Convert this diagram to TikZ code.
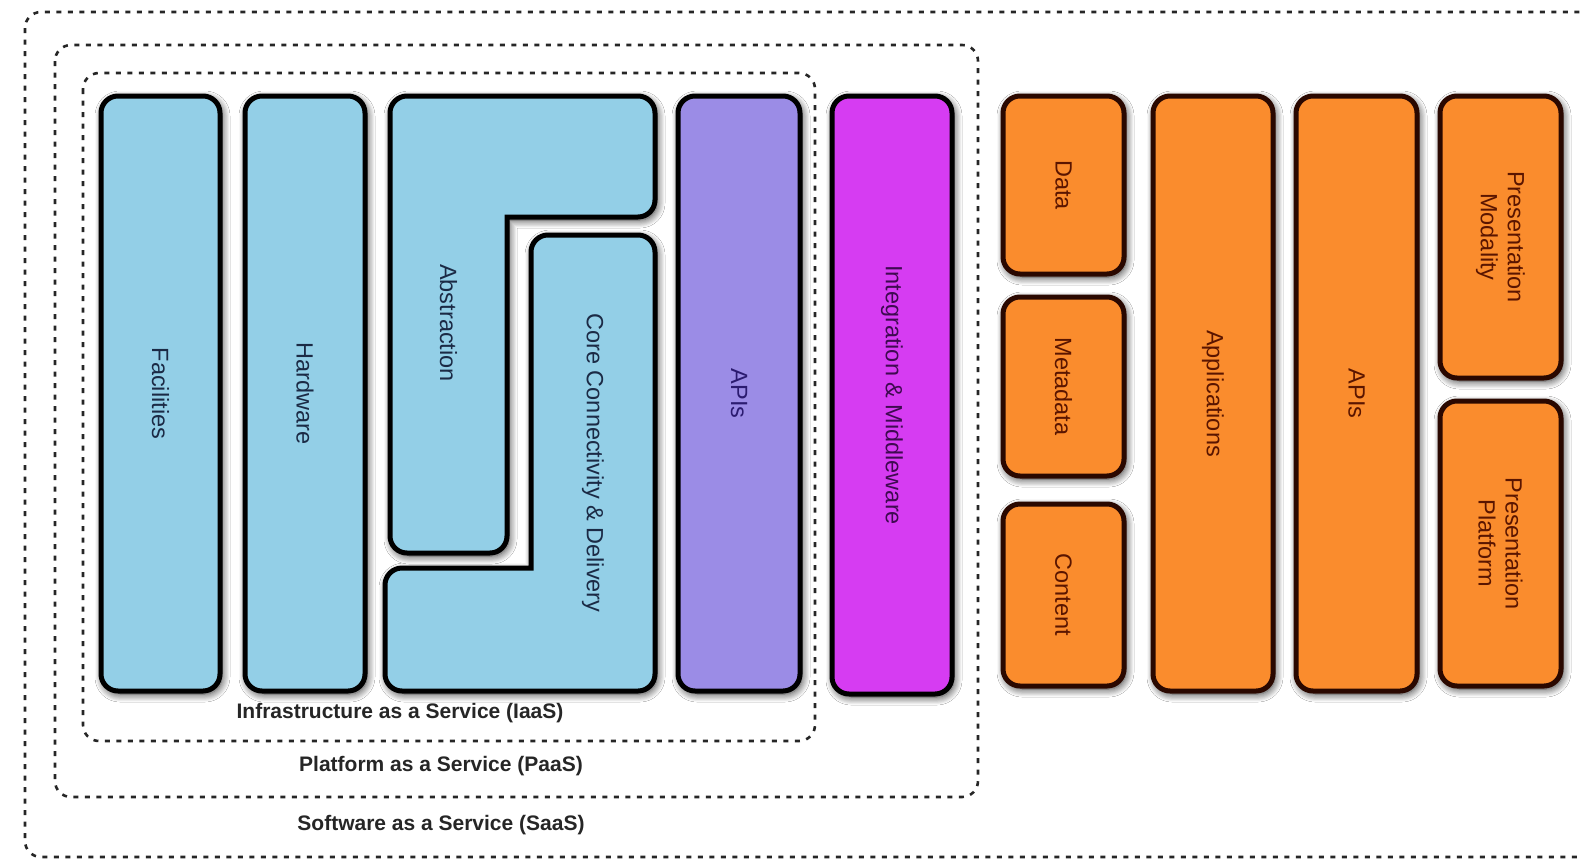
\documentclass[tikz,border=0pt]{standalone}
\usepackage{fontspec}
\setmainfont{Liberation Sans}
\usetikzlibrary{shadows.blur}

\definecolor{skyfill}{HTML}{93CFE7}
\definecolor{skyink}{HTML}{1B2A45}
\definecolor{lilacfill}{HTML}{9B8CE6}
\definecolor{lilacink}{HTML}{2B1B70}
\definecolor{magfill}{HTML}{D63CF2}
\definecolor{magink}{HTML}{3E0A50}
\definecolor{orgfill}{HTML}{FA8C2D}
\definecolor{orgink}{HTML}{5A1500}
\definecolor{orgrim}{HTML}{2A0800}

\begin{document}
\begin{tikzpicture}[x=1pt,y=-1pt,
  layer/.style={draw=black!85,line width=2.6pt,dash pattern=on 5pt off 6.5pt,rounded corners=16pt},
  block/.style={line width=5pt,rounded corners=17pt,
    blur shadow={shadow xshift=2pt,shadow yshift=-3pt,shadow blur radius=8pt,
      shadow blur steps=8,shadow opacity=85}},
  vblock/.style={block,rotate=-90,align=center,inner sep=0pt},
  boxfont/.style={font=\fontsize{23.5}{27}\selectfont},
  vtext/.style={rotate=-90,boxfont},
  caption/.style={font=\fontsize{21}{25}\selectfont\bfseries,text=black!85},
]
\useasboundingbox (0,0) rectangle (1581,865);
\fill[white] (0,0) rectangle (1581,865);
\clip (0,0) rectangle (1581,865);

% service layers
\draw[layer] (25,12) rectangle (1620,857);
\draw[layer] (55,45) rectangle (978,797);
\draw[layer] (83,73) rectangle (815,741);
\node[caption] (iaas) at (400,713) {Infrastructure as a Service (IaaS)};
\node[caption] (paas) at (441,766) {Platform as a Service (PaaS)};
\node[caption] (saas) at (441,825) {Software as a Service (SaaS)};

% interlocking infrastructure pieces
\draw[block,draw=black,fill=skyfill] (390,96) -- (655,96) -- (655,217)
  [sharp corners] -- (507,217) [rounded corners=17pt] -- (507,553) -- (390,553) -- cycle;
\draw[block,draw=black,fill=skyfill] (531,235) -- (655,235) -- (655,691) -- (385,691)
  -- (385,568) [sharp corners] -- (531,568) [rounded corners=17pt] -- cycle;
\node[vtext,text=skyink] (abs) at (448.5,323) {Abstraction};
\node[vtext,text=skyink] (core) at (593,463) {Core Connectivity \& Delivery};

% straight columns
\foreach \n/\cx/\cy/\w/\h/\col/\rim/\ink/\txt in {
  fac/160.5/393.5/119/595/skyfill/black/skyink/Facilities,
  hw/305/393.5/120/595/skyfill/black/skyink/Hardware,
  apis/739/393.5/122/595/lilacfill/black/lilacink/APIs,
  mid/892/395/120/598/magfill/black/magink/Integration \& Middleware,
  data/1063.5/185/121/178/orgfill/orgrim/orgink/Data,
  meta/1063.5/386.5/121/179/orgfill/orgrim/orgink/Metadata,
  cont/1063.5/595/121/182/orgfill/orgrim/orgink/Content,
  apps/1213/393.5/120/595/orgfill/orgrim/orgink/Applications,
  sapis/1356.5/393.5/121/595/orgfill/orgrim/orgink/APIs,
  pmod/1500.5/237/121/282/orgfill/orgrim/orgink/{Presentation\\Modality},
  pplat/1500.5/543.5/121/285/orgfill/orgrim/orgink/{Presentation\\Platform}}
  \node[vblock,boxfont,draw=\rim,fill=\col,text=\ink,
    minimum width=\h pt,minimum height=\w pt] (\n) at (\cx,\cy) {\txt};
\end{tikzpicture}
\end{document}
